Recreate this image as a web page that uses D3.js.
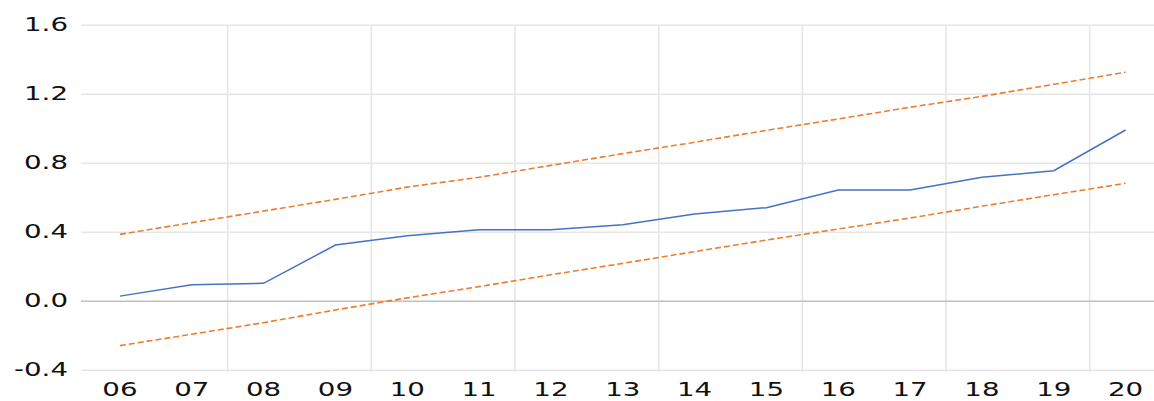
<!DOCTYPE html>
<html>
<head>
<meta charset="utf-8">
<script src="https://cdn.jsdelivr.net/npm/d3@7"></script>
<style>
  html, body { margin: 0; padding: 0; background: #fff; }
  svg { display: block; }
  text { font-family: "DejaVu Sans", Verdana, sans-serif; fill: #111; }
</style>
</head>
<body>
<svg id="chart" width="1154" height="401"></svg>
<script>
// Year labels along the x axis
const years = ["06","07","08","09","10","11","12","13","14","15","16","17","18","19","20"];
// Observed series
const actual = [0.03, 0.096, 0.104, 0.326, 0.38, 0.415, 0.415, 0.444, 0.506, 0.543, 0.645, 0.645, 0.719, 0.757, 0.993];
// Upper and lower band limits
const upper = [0.388, 0.456, 0.523, 0.591, 0.662, 0.719, 0.788, 0.856, 0.922, 0.991, 1.057, 1.125, 1.188, 1.258, 1.328];
const lower = [-0.257, -0.191, -0.124, -0.050, 0.020, 0.085, 0.154, 0.220, 0.288, 0.355, 0.419, 0.483, 0.551, 0.618, 0.684];
// Value axis ticks
const yTicks = [-0.4, 0.0, 0.4, 0.8, 1.2, 1.6];

const svg = d3.select("#chart");
const W = 1154, H = 401;
const stretch = 1.42;

const x = d3.scaleBand().domain(years).range([84, 1161.5]).padding(0);
const y = d3.scaleLinear().domain([-0.4, 1.6]).range([370.3, 25.3]);
const cx = d => x(d) + x.bandwidth() / 2;

// Horizontal gridlines
svg.append("g").selectAll("line")
  .data(yTicks.filter(t => t !== 0))
  .join("line")
  .attr("x1", 81).attr("x2", W)
  .attr("y1", d => y(d)).attr("y2", d => y(d))
  .attr("stroke", "#e6e6e6").attr("stroke-width", 1.4);

// Vertical gridlines every second category boundary
const vIdx = d3.range(2, years.length, 2);
svg.append("g").selectAll("line")
  .data(vIdx)
  .join("line")
  .attr("x1", i => x(years[i])).attr("x2", i => x(years[i]))
  .attr("y1", 25).attr("y2", 372)
  .attr("stroke", "#e6e6e6").attr("stroke-width", 1.6);

// Zero baseline
svg.append("line")
  .attr("x1", 81).attr("x2", W)
  .attr("y1", y(0)).attr("y2", y(0))
  .attr("stroke", "#bfbfbf").attr("stroke-width", 1.4);

// Y tick labels
svg.append("g").selectAll("text")
  .data(yTicks)
  .join("text")
  .attr("transform", d => `translate(68,${y(d) + 6}) scale(${stretch},1)`)
  .attr("text-anchor", "end")
  .attr("font-size", 19.5)
  .text(d => d.toFixed(1));

// X tick labels
svg.append("g").selectAll("text")
  .data(years)
  .join("text")
  .attr("transform", d => `translate(${cx(d)},396) scale(${stretch},1)`)
  .attr("text-anchor", "middle")
  .attr("font-size", 19.5)
  .text(d => d);

const line = d3.line().x((d, i) => cx(years[i])).y(d => y(d));

// Band limits (dashed)
[upper, lower].forEach(series => {
  svg.append("path")
    .datum(series)
    .attr("d", line)
    .attr("fill", "none")
    .attr("stroke", "#ED7D31")
    .attr("stroke-width", 1.6)
    .attr("stroke-dasharray", "6,3");
});

// Observed series
svg.append("path")
  .datum(actual)
  .attr("d", line)
  .attr("fill", "none")
  .attr("stroke", "#4472C4")
  .attr("stroke-width", 1.5);
</script>
</body>
</html>
